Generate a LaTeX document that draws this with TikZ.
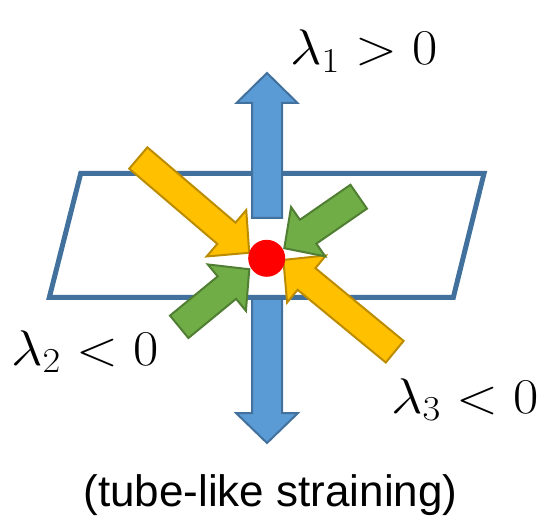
\RequirePackage{fix-cm}
\documentclass[tikz,border=0pt]{standalone}
\usepackage{fontspec}
\newfontfamily\arialfont{Liberation Sans}
\definecolor{bfill}{HTML}{5B9BD5}
\definecolor{bline}{HTML}{41719C}
\definecolor{yfill}{HTML}{FFC000}
\definecolor{yline}{HTML}{BC8C00}
\definecolor{gfill}{HTML}{70AD47}
\definecolor{gline}{HTML}{507E32}
\tikzset{
  bluearr/.style={fill=bfill, draw=bline, line width=2pt, line join=miter},
  yelarr/.style={fill=yfill, draw=yline, line width=2pt, line join=miter},
  grnarr/.style={fill=gfill, draw=gline, line width=2pt, line join=miter},
  lab/.style={anchor=base west, inner sep=0pt, font=\fontsize{50}{60}\selectfont},
}
% #1 style, #2 tail x, #3 tail y, #4 angle, #5 length, #6 shaft half width, #7 head half width, #8 head length
\newcommand{\blockarrow}[8]{%
  \begin{scope}[shift={(#2,#3)}, rotate=#4]
    \draw[#1] (0,-#6) -- ({#5-#8},-#6) -- ({#5-#8},-#7) -- (#5,0)
      -- ({#5-#8},#7) -- ({#5-#8},#6) -- (0,#6) -- cycle;
  \end{scope}}
\begin{document}
\begin{tikzpicture}[x=1pt,y=1pt]
\useasboundingbox (0,0) rectangle (543,517);
% down arrow
\blockarrow{bluearr}{267}{219}{-90}{145}{15}{31}{30}
% plane
\coordinate (p1) at (80.7,343.5);
\coordinate (p2) at (484,343.5);
\coordinate (p3) at (453.3,219.5);
\coordinate (p4) at (49.3,219.5);
\draw[bline, line width=5pt] (p1) -- (p2) -- (p3) -- (p4) -- cycle;
% up arrow
\blockarrow{bluearr}{267}{299}{90}{145}{15}{30.5}{30}
% yellow arrows
\blockarrow{yelarr}{138.3}{359}{-40.5}{145.9}{14}{30.5}{30}
\blockarrow{yelarr}{394.7}{165.3}{140.5}{144.3}{14}{30.5}{30}
% green arrows
\blockarrow{grnarr}{358.7}{320.3}{214.7}{90.5}{14.5}{30}{29}
\blockarrow{grnarr}{179.2}{190.2}{39.4}{90.7}{14.5}{30}{29}
% red dot
\fill[red] (266.7,258.7) circle (18.5pt) coordinate (dot);
% labels
\node[lab] (l1) at (290,452) {\scalebox{1.1}[1]{$\lambda_1 > 0$}};
\node[lab] (l2) at (11,152) {\scalebox{1.1}[1]{$\lambda_2 < 0$}};
\node[lab] (l3) at (391,104) {\scalebox{1.1}[1]{$\lambda_3 < 0$}};
\node[anchor=base, inner sep=0pt, font=\arialfont\fontsize{44}{52}\selectfont] (cap) at (270.6,11) {(tube-like straining)};
\end{tikzpicture}
\end{document}
